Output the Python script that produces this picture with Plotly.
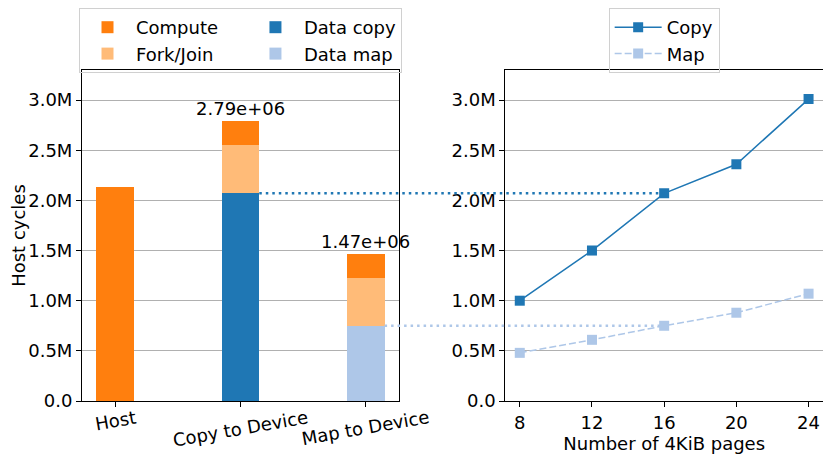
import plotly.graph_objects as go

# ---------------- data ----------------
categories = ["Host", "Copy to Device", "Map to Device"]
compute = [2.13e6, 0.24e6, 0.24e6]
fork_join = [0.0, 0.48e6, 0.48e6]
data_copy = [0.0, 2.07e6, 0.0]
data_map = [0.0, 0.0, 0.75e6]

pages = [8, 12, 16, 20, 24]
copy_cycles = [1.00e6, 1.50e6, 2.07e6, 2.36e6, 3.01e6]
map_cycles = [0.48e6, 0.61e6, 0.75e6, 0.88e6, 1.07e6]

ytick_vals = [0, 0.5e6, 1.0e6, 1.5e6, 2.0e6, 2.5e6, 3.0e6]
ytick_text = ["0.0", "0.5M", "1.0M", "1.5M", "2.0M", "2.5M", "3.0M"]

# ---------------- style ----------------
C_COMPUTE = "#ff7f0e"
C_FORK = "#ffbb78"
C_COPY = "#1f77b4"
C_MAP = "#aec7e8"
FONT = "DejaVu Sans"
FS = 18
PAD = "\u00a0" * 5          # widens the first legend column
OFF = 8                     # page body offset
W, H = 831 - OFF, 459 - OFF
ML, MR, MT, MB = 82 - OFF, 8, 70 - OFF, 58
DOM1 = [0.0, 0.4278]
DOM2 = [0.5713, 1.0]
XR1 = [-0.265, 2.265]
XR2 = [7.2, 24.8]
YR = [0, 3.3e6]
BAR_W = 0.3

fig = go.Figure()

def add_bar(name, vals, color, group, rank):
    fig.add_trace(go.Bar(
        x=list(range(len(categories))), y=vals, name=name, width=BAR_W,
        marker=dict(color=color, line=dict(width=0)),
        legend="legend", legendgroup=group, legendrank=rank,
        xaxis="x", yaxis="y", showlegend=True))

add_bar("Data copy", data_copy, C_COPY, "g2", 3)
add_bar("Data map", data_map, C_MAP, "g2", 4)
add_bar("Fork/Join" + PAD, fork_join, C_FORK, "g1", 2)
add_bar("Compute", compute, C_COMPUTE, "g1", 1)

fig.add_trace(go.Scatter(
    x=pages, y=copy_cycles, name="Copy", mode="lines+markers",
    line=dict(color=C_COPY, width=1.5),
    marker=dict(symbol="square", size=10, color=C_COPY),
    legend="legend2", xaxis="x2", yaxis="y2"))
fig.add_trace(go.Scatter(
    x=pages, y=map_cycles, name="Map", mode="lines+markers",
    line=dict(color=C_MAP, width=1.5, dash="7px,3px"),
    marker=dict(symbol="square", size=10, color=C_MAP),
    legend="legend2", xaxis="x2", yaxis="y2"))

# totals on top of bars, category labels below
annotations = []
for i, cat in enumerate(categories):
    total = compute[i] + fork_join[i] + data_copy[i] + data_map[i]
    if i > 0:
        annotations.append(dict(
            x=i, y=total, xref="x", yref="y", text=f"{total:.2e}",
            showarrow=False, yanchor="bottom", xanchor="center", yshift=0,
            font=dict(family=FONT, size=FS, color="black")))
    annotations.append(dict(
        x=i, y=0, xref="x", yref="paper", text=cat, showarrow=False,
        yanchor="top", xanchor="center", yshift=-3, textangle=-10,
        font=dict(family=FONT, size=FS, color="black")))

# dotted connectors from bar segments to the 16-page points
def xpaper_left(v):
    return DOM1[0] + (v - XR1[0]) / (XR1[1] - XR1[0]) * (DOM1[1] - DOM1[0])

def xpaper_right(v):
    return DOM2[0] + (v - XR2[0]) / (XR2[1] - XR2[0]) * (DOM2[1] - DOM2[0])

def ypaper(v):
    return (v - YR[0]) / (YR[1] - YR[0])

idx16 = pages.index(16)
shapes = [
    dict(type="line", xref="paper", yref="paper",
         x0=xpaper_left(1 + BAR_W / 2), x1=xpaper_right(pages[idx16]),
         y0=ypaper(data_copy[1]), y1=ypaper(copy_cycles[idx16]),
         line=dict(color=C_COPY, width=2.5, dash="2.5px,4px"), layer="above"),
    dict(type="line", xref="paper", yref="paper",
         x0=xpaper_left(2 + BAR_W / 2), x1=xpaper_right(pages[idx16]),
         y0=ypaper(data_map[2]), y1=ypaper(map_cycles[idx16]),
         line=dict(color=C_MAP, width=2.5, dash="2.5px,4px"), layer="above"),
]

axis_common = dict(showline=True, linecolor="black", linewidth=1, mirror=True,
                   ticks="outside", ticklen=5, tickcolor="black", tickwidth=1,
                   tickfont=dict(family=FONT, size=FS, color="black"),
                   zeroline=False, automargin=False)

def container_x(dom):
    pw = W - ML - MR
    return (ML + (dom[0] + dom[1]) / 2 * pw) / W

LEG_BG = "rgba(255,255,255,0)"

fig.update_layout(
    width=W, height=H,
    margin=dict(l=ML, r=MR, t=MT, b=MB, autoexpand=False),
    paper_bgcolor="white", plot_bgcolor="white",
    font=dict(family=FONT, size=FS, color="black"),
    barmode="stack", bargap=0,
    xaxis=dict(domain=DOM1, range=XR1, tickvals=[0, 1, 2], showticklabels=False,
               showgrid=False, anchor="y", **axis_common),
    yaxis=dict(domain=[0, 1], range=YR, tickvals=ytick_vals, ticktext=ytick_text,
               showgrid=True, gridcolor="#b0b0b0", gridwidth=1, anchor="x",
               title=dict(text="Host cycles", font=dict(family=FONT, size=FS), standoff=2),
               **axis_common),
    xaxis2=dict(domain=DOM2, range=XR2, tickvals=pages, showgrid=False, anchor="y2",
                title=dict(text="Number of 4KiB pages", font=dict(family=FONT, size=FS), standoff=0),
                **axis_common),
    yaxis2=dict(domain=[0, 1], range=YR, tickvals=ytick_vals, ticktext=ytick_text,
                showgrid=True, gridcolor="#b0b0b0", gridwidth=1, anchor="x2",
                **axis_common),
    legend=dict(orientation="h", traceorder="grouped",
                xref="container", yref="container",
                x=container_x(DOM1), xanchor="center", y=1, yanchor="top", itemwidth=47,
                bgcolor=LEG_BG, bordercolor="#d0d0d0", borderwidth=1,
                font=dict(family=FONT, size=FS)),
    legend2=dict(orientation="v", xref="container", yref="container",
                 x=container_x(DOM2), xanchor="center", y=1, yanchor="top", itemwidth=47,
                 bgcolor=LEG_BG, bordercolor="#d0d0d0", borderwidth=1,
                 font=dict(family=FONT, size=FS)),
    annotations=annotations,
    shapes=shapes,
    showlegend=True,
)

fig.write_html("out.html")
